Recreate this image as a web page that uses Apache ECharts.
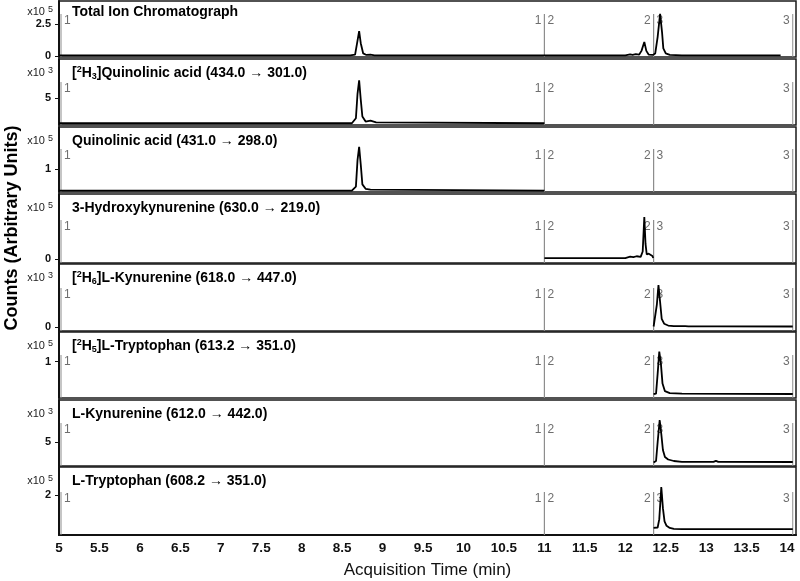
<!DOCTYPE html>
<html>
<head>
<meta charset="utf-8">
<script src="https://cdn.jsdelivr.net/npm/echarts@6.0.0/dist/echarts.min.js"></script>
<style>
html,body{margin:0;padding:0;background:#fff;}
#chart{width:800px;height:581px;}
</style>
</head>
<body>
<div id="chart"></div>
<script>
// ---------------- DATA ----------------
const xTicks = [5, 5.5, 6, 6.5, 7, 7.5, 8, 8.5, 9, 9.5, 10, 10.5, 11, 11.5, 12, 12.5, 13, 13.5, 14];

const segStart  = [5, 11, 12.35];
const segEnd    = [11, 12.35, 14.07];
const segNumber = [1, 2, 3];

const panelTitles = [
  'Total Ion Chromatograph',
  '[{sup|2}H{sub|3}]Quinolinic acid (434.0 \u2192 301.0)',
  'Quinolinic acid (431.0 \u2192 298.0)',
  '3-Hydroxykynurenine (630.0 \u2192 219.0)',
  '[{sup|2}H{sub|6}]L-Kynurenine (618.0 \u2192 447.0)',
  '[{sup|2}H{sub|5}]L-Tryptophan (613.2 \u2192 351.0)',
  'L-Kynurenine (612.0 \u2192 442.0)',
  'L-Tryptophan (608.2 \u2192 351.0)'
];
const panelExponents = [5, 3, 5, 5, 3, 5, 3, 5];

const yTicks = [[0, 2.5], [5], [1], [0], [0], [1], [5], [2]];
const yMin = [-0.08, 1.79, 0.477, -0.027, -0.27, 0.09, 2.6, 0.18];
const yMax = [4.3, 9.64, 1.95, 0.433, 4.5, 1.74, 9.2, 3.27];

// Total Ion Chromatograph (x10^5)
const ticTime  = [5.00, 8.60, 8.66, 8.69, 8.71, 8.73, 8.76, 8.80, 8.85, 8.90, 12.00, 12.06, 12.09, 12.13, 12.17, 12.20, 12.235, 12.26, 12.29, 12.34, 12.37, 12.40, 12.43, 12.455, 12.47, 12.50, 12.55, 12.70, 13.92];
const ticValue = [0.04, 0.04, 0.10, 1.20, 1.95, 1.00, 0.20, 0.08, 0.10, 0.05, 0.04, 0.12, 0.08, 0.14, 0.10, 0.40, 1.10, 0.40, 0.10, 0.08, 0.20, 1.50, 3.30, 1.80, 0.60, 0.20, 0.08, 0.05, 0.04];

// [2H3]Quinolinic acid (x10^3)
const d3qaTime  = [5.00, 8.62, 8.67, 8.69, 8.71, 8.73, 8.75, 8.79, 8.85, 8.92, 11.00];
const d3qaValue = [2.00, 2.00, 2.60, 5.50, 7.10, 4.80, 2.80, 2.20, 2.30, 2.10, 2.00];

// Quinolinic acid (x10^5)
const qaTime  = [5.00, 8.62, 8.67, 8.69, 8.71, 8.73, 8.75, 8.79, 8.85, 11.00];
const qaValue = [0.51, 0.51, 0.60, 1.20, 1.50, 1.10, 0.65, 0.55, 0.53, 0.51];

// 3-Hydroxykynurenine (x10^5)
const hkTime  = [11.00, 12.00, 12.06, 12.10, 12.14, 12.19, 12.215, 12.235, 12.25, 12.265, 12.29, 12.31, 12.335, 12.345];
const hkValue = [0.005, 0.006, 0.015, 0.012, 0.018, 0.014, 0.050, 0.280, 0.100, 0.030, 0.035, 0.028, 0.020, 0.006];

// [2H6]L-Kynurenine (x10^3)
const d6kynTime  = [12.35, 12.37, 12.39, 12.41, 12.43, 12.45, 12.48, 12.53, 12.60, 12.74, 12.76, 12.78, 13.10, 13.12, 13.14, 14.07];
const d6kynValue = [0.05, 0.10, 1.60, 3.00, 1.80, 0.60, 0.25, 0.12, 0.08, 0.07, 0.12, 0.06, 0.06, 0.11, 0.06, 0.05];

// [2H5]L-Tryptophan (x10^5)
const d5trpTime  = [12.35, 12.38, 12.40, 12.42, 12.44, 12.46, 12.49, 12.55, 12.70, 14.07];
const d5trpValue = [0.19, 0.20, 0.70, 1.25, 0.95, 0.45, 0.26, 0.21, 0.20, 0.19];

// L-Kynurenine (x10^3)
const kynTime  = [12.35, 12.38, 12.40, 12.425, 12.445, 12.465, 12.49, 12.53, 12.60, 12.70, 13.09, 13.12, 13.15, 14.07];
const kynValue = [2.95, 3.10, 5.00, 7.20, 5.80, 4.20, 3.50, 3.25, 3.10, 3.02, 3.02, 3.12, 3.02, 3.00];

// L-Tryptophan (x10^5)
const trpTime  = [12.35, 12.40, 12.42, 12.445, 12.465, 12.485, 12.51, 12.55, 12.60, 12.70, 14.07];
const trpValue = [0.50, 0.52, 0.90, 2.36, 1.40, 0.80, 0.60, 0.50, 0.46, 0.45, 0.45];

const seriesTimes  = [ticTime, d3qaTime, qaTime, hkTime, d6kynTime, d5trpTime, kynTime, trpTime];
const seriesValues = [ticValue, d3qaValue, qaValue, hkValue, d6kynValue, d5trpValue, kynValue, trpValue];

// ---------------- LAYOUT ----------------
const FONT = '"Liberation Sans", Arial, sans-serif';
const gridLeft = 59, gridRight = 4;
const gridTop    = [1, 59, 127, 194, 264, 332, 400, 467];
const gridHeight = [56, 66, 65, 69, 67, 66, 66, 68];
const titleTop   = [4, 65, 133, 200, 270, 338, 406, 473];
const xMin = 5, xMax = 14.11;

const chart = echarts.init(document.getElementById('chart'));

const segData = segStart.map((s, i) => [s, segEnd[i], segNumber[i]]);

function renderSegment(params, api) {
  const cs = params.coordSys;
  let x0 = api.coord([api.value(0), 0])[0];
  const x1 = api.coord([api.value(1), 0])[0];
  const n = String(api.value(2));
  const bottom = cs.y + cs.height;
  const lineTop = bottom - 43;
  const labY = bottom - 36;
  if (x0 <= cs.x + 1) x0 = x0 + 2;
  const lineStyle = {stroke: '#8c8c8c', lineWidth: 1};
  const textStyle = {fill: '#6e6e6e', fontSize: 12, fontFamily: FONT, verticalAlign: 'middle'};
  return {
    type: 'group',
    children: [
      {type: 'line', shape: {x1: x0, y1: lineTop, x2: x0, y2: bottom}, style: lineStyle},
      {type: 'line', shape: {x1: x1, y1: lineTop, x2: x1, y2: bottom}, style: lineStyle},
      {type: 'text', style: Object.assign({text: n, x: x0 + 3, y: labY, align: 'left'}, textStyle)},
      {type: 'text', style: Object.assign({text: n, x: x1 - 3, y: labY, align: 'right'}, textStyle)}
    ]
  };
}

const grids = [], xAxes = [], yAxes = [], series = [], titles = [];
for (let i = 0; i < 8; i++) {
  const last = i === 7;
  grids.push({
    left: gridLeft, right: gridRight, top: gridTop[i], height: gridHeight[i],
    show: true, borderColor: '#1a1a1a', borderWidth: 1.5, containLabel: false
  });
  xAxes.push({
    gridIndex: i, type: 'value', min: xMin, max: xMax, interval: 0.5,
    axisLine: {show: last, onZero: false, lineStyle: {color: '#111', width: 2}},
    axisTick: {show: false},
    axisLabel: last ? {show: true, customValues: xTicks, fontSize: 13.5, fontWeight: 'bold', color: '#111', fontFamily: FONT, margin: 6} : {show: false},
    splitLine: {show: false},
    name: last ? 'Acquisition Time (min)' : '',
    nameLocation: 'middle', nameGap: 27,
    nameTextStyle: {fontSize: 17, color: '#111', fontFamily: FONT}
  });
  yAxes.push({
    gridIndex: i, type: 'value', min: yMin[i], max: yMax[i],
    axisLine: {show: true, onZero: false, lineStyle: {color: '#111', width: 2}},
    axisTick: {show: true, length: 4, customValues: yTicks[i], lineStyle: {color: '#111', width: 1}},
    axisLabel: {show: true, customValues: yTicks[i], fontSize: 11, fontWeight: 'bold', color: '#111', fontFamily: FONT, margin: 8},
    splitLine: {show: false}
  });
  series.push({
    type: 'custom', xAxisIndex: i, yAxisIndex: i, renderItem: renderSegment,
    data: segData, encode: {x: [0, 1], y: 2}, silent: true, z: 1
  });
  series.push({
    type: 'line', xAxisIndex: i, yAxisIndex: i,
    data: seriesTimes[i].map((t, k) => [t, seriesValues[i][k]]),
    showSymbol: false, symbol: 'none', clip: true, z: 3,
    lineStyle: {color: '#000', width: 1.8}, silent: true
  });
  titles.push({
    text: panelTitles[i], left: 72, top: titleTop[i], padding: 0,
    textStyle: {
      fontSize: 14, fontWeight: 'bold', color: '#000', fontFamily: FONT, lineHeight: 16,
      rich: {
        sup: {fontSize: 9, lineHeight: 9, verticalAlign: 'top', color: '#000', fontFamily: FONT},
        sub: {fontSize: 9, lineHeight: 9, verticalAlign: 'bottom', color: '#000', fontFamily: FONT}
      }
    }
  });
  titles.push({
    text: 'x10 {sup|' + panelExponents[i] + '}', right: 800 - 53, top: titleTop[i] + 1, padding: 0,
    textStyle: {
      fontSize: 11, fontWeight: 'normal', color: '#222', fontFamily: FONT, lineHeight: 14,
      rich: {sup: {fontSize: 9, lineHeight: 9, verticalAlign: 'top', color: '#222', fontFamily: FONT}}
    }
  });
}

chart.setOption({
  animation: false,
  backgroundColor: '#fff',
  title: titles,
  grid: grids,
  xAxis: xAxes,
  yAxis: yAxes,
  series: series,
  graphic: [{
    type: 'text', x: 12, y: 228, rotation: Math.PI / 2,
    style: {text: 'Counts (Arbitrary Units)', fontSize: 18, fontWeight: 'bold', fill: '#000', fontFamily: FONT, align: 'center', verticalAlign: 'middle'}
  }]
});
</script>
</body>
</html>
